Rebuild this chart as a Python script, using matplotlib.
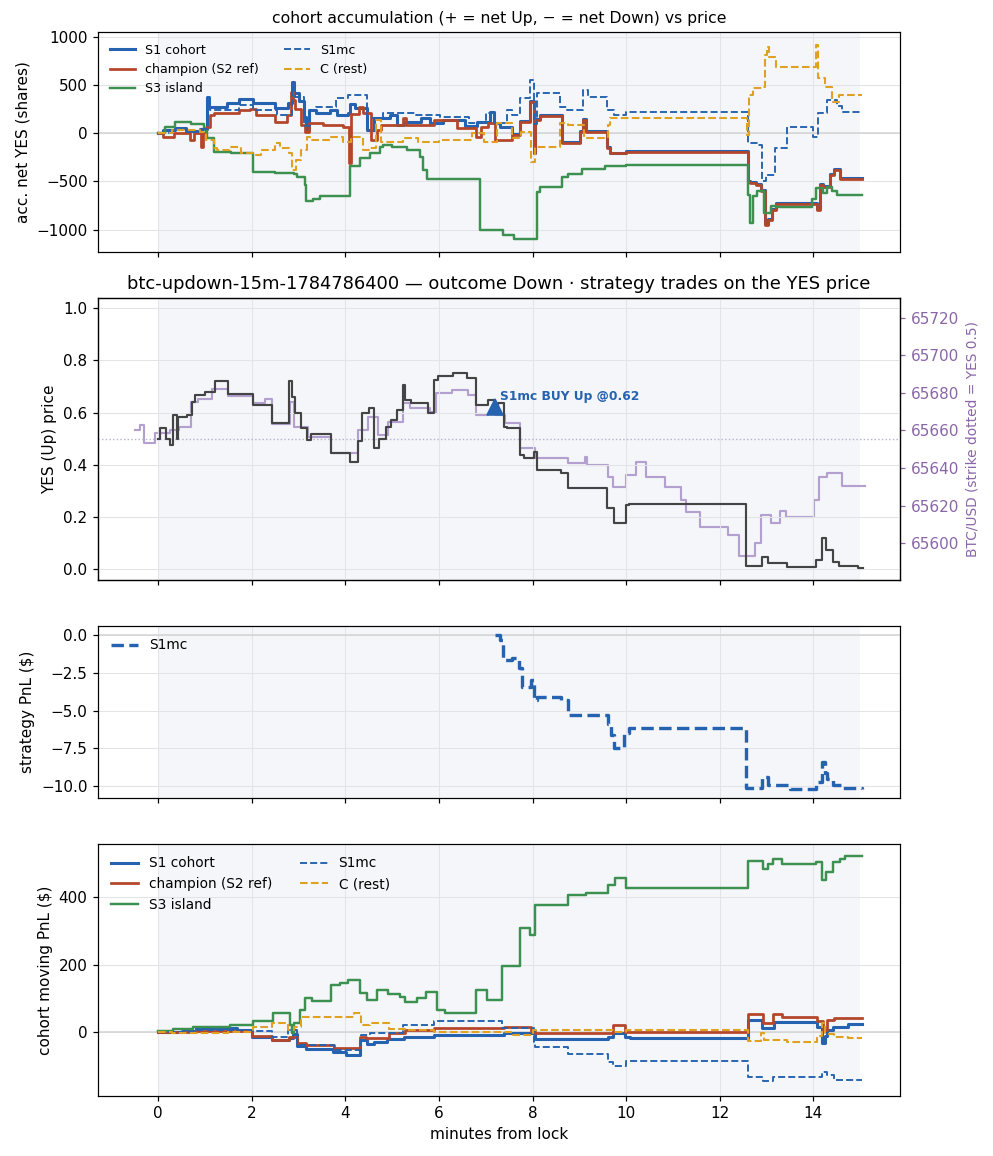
import numpy as np
import matplotlib
matplotlib.use("Agg")
import matplotlib.pyplot as plt

# colours
C_S1 = '#2563b0'
C_CH = '#b5462a'
C_S3 = '#3d9150'
C_C = '#e0a020'
C_BTC = '#b3a0cf'
C_YES = '#444444'

# ---- panel 1: accumulated net YES shares ----
acc_s1_t = [0, 0.1, 0.35, 0.6, 0.9, 1.05, 1.08, 1.46, 1.72, 2.03, 2.5, 2.78, 2.86, 2.9, 3.0, 3.12, 3.16, 3.22,
            3.38, 3.67, 3.82, 4.05, 4.1, 4.2, 4.46, 4.6, 4.95, 5.1, 5.25, 5.62, 5.8, 6.08, 6.55, 6.82, 7.08, 7.18,
            7.3, 7.55, 7.73, 7.94, 8.02, 8.06, 8.15, 8.62, 9.02, 9.08, 9.15, 9.58, 9.66, 10.0, 12.6, 12.64, 12.78,
            12.88, 12.96, 13.02, 13.12, 13.2, 14.08, 14.14, 14.2, 14.35, 14.45, 14.56, 15.03]
acc_s1_v = [0, 30, 55, 20, 45, 380, 277, 311, 353, 311, 260, 311, 536, 415, 330, 173, 35, 242,
            208, 242, 190, 205, 300, 260, 35, 156, 190, 87, 121, 156, 104, 138, 70, 121, 225, 110,
            60, -8, 130, 338, -200, 146, 192, -95, 25, 146, 25, -147, -200, -188, -492, -510, -528,
            -590, -940, -890, -786, -728, -790, -528, -550, -424, -372, -465, -465]

acc_ch_t = [0, 0.1, 0.33, 0.68, 0.76, 0.92, 0.96, 1.03, 1.1, 1.2, 1.72, 1.96, 2.08, 2.5, 2.74, 2.84, 2.87, 2.92,
            3.05, 3.14, 3.22, 3.53, 3.95, 4.08, 4.12, 4.28, 4.38, 4.54, 4.68, 4.76, 5.24, 5.3, 5.36, 5.9, 6.38,
            6.6, 6.78, 6.9, 7.05, 7.2, 7.55, 7.73, 7.94, 8.02, 8.06, 8.15, 8.62, 9.02, 9.08, 9.15, 9.58, 9.66,
            10.0, 12.6, 12.64, 12.78, 12.88, 12.96, 13.02, 13.12, 13.2, 14.08, 14.14, 14.2, 14.35, 14.45, 14.56, 15.03]
acc_ch_v = [0, -42, 5, -69, 0, -138, 0, 69, 190, 208, 242, 249, 190, 121, 190, 432, 346, 250,
            87, 17, 104, 87, 69, -311, 200, 277, 208, -69, 35, 87, 156, 87, 87, 138, 52,
            52, -35, 69, 104, -69, -17, 121, 329, -208, 138, 183, -104, 17, 138, 17, -156, -208,
            -197, -502, -519, -536, -600, -951, -900, -796, -737, -800, -536, -560, -432, -380, -474, -474]

acc_s3_t = [0, 0.15, 0.35, 0.7, 0.98, 1.05, 1.2, 1.55, 2.03, 2.5, 2.9, 2.96, 3.13, 3.16, 3.3, 3.46, 4.1, 4.31,
            4.52, 4.74, 4.8, 5.0, 5.31, 5.59, 5.66, 5.74, 6.88, 7.37, 7.6, 8.09, 8.15, 8.62, 8.76, 9.05, 9.55,
            10.0, 12.61, 12.65, 12.72, 12.8, 12.95, 13.1, 13.2, 13.98, 14.05, 14.2, 14.3, 14.4, 14.5, 15.03]
acc_s3_v = [0, 60, 120, 100, 30, -50, -190, -207, -398, -410, -420, -450, -536, -705, -685, -655, -339, -260,
            -207, -145, -121, -145, -173, -242, -380, -470, -1000, -1055, -1100, -606, -557, -453, -419, -367, -340,
            -325, -640, -932, -650, -602, -830, -760, -770, -680, -570, -620, -555, -600, -645, -645]

acc_mc_t = [0, 0.3, 0.6, 0.95, 1.07, 1.1, 1.72, 2.03, 2.53, 2.86, 2.92, 3.12, 3.24, 3.38, 3.8, 4.05, 4.47, 4.8,
            5.5, 6.02, 6.64, 7.0, 7.2, 7.45, 7.55, 7.73, 7.94, 8.02, 8.09, 8.58, 8.73, 9.08, 9.18, 9.58, 9.73,
            10.0, 12.61, 12.79, 12.9, 12.99, 13.19, 13.43, 14.0, 14.1, 14.3, 14.5, 14.62, 15.03]
acc_mc_v = [0, 30, 10, 40, 330, 242, 294, 242, 190, 484, 380, 70, 242, 277, 363, 398, 156, 208,
            190, 173, 104, 208, 104, 242, 190, 363, 554, 100, 415, 277, 242, 450, 381, 242, 190,
            218, -100, -121, -500, -430, -150, 60, -35, 208, 346, 280, 225, 225]

acc_c_t = [0, 0.3, 0.9, 1.03, 1.2, 1.25, 1.53, 1.76, 2.03, 2.2, 2.5, 2.6, 2.8, 2.86, 2.95, 3.05, 3.17, 3.25,
           3.7, 3.95, 4.12, 4.38, 4.5, 4.65, 4.76, 5.24, 5.55, 6.0, 6.7, 6.95, 7.23, 7.55, 7.75, 7.97, 8.05,
           8.58, 8.76, 9.09, 9.6, 9.65, 10.0, 12.59, 12.63, 12.7, 12.9, 12.97, 13.0, 13.05, 13.2, 14.05, 14.1,
           14.25, 14.4, 14.55, 15.03]
acc_c_v = [0, 30, 10, -69, -156, -173, -145, -207, -225, -173, -104, -156, -207, -380, -277, -173, -35, -69,
           -35, -87, -35, -173, -150, 138, -87, -52, -87, -69, 0, -87, 104, -50, 17, -294, -138,
           104, 87, -52, 87, 156, 163, -17, 398, 467, 484, 813, 900, 796, 692, 917, 571,
           484, 329, 398, 398]

# ---- panel 2: YES price and BTC ----
yes_t = [0, 0.04, 0.17, 0.24, 0.32, 0.4, 0.43, 0.62, 0.73, 0.78, 1.0, 1.21, 1.5, 2.03, 2.42, 2.8, 2.86, 2.92,
         3.06, 3.17, 3.26, 3.7, 4.1, 4.26, 4.35, 4.5, 4.62, 4.72, 4.86, 4.98, 5.1, 5.22, 5.27, 5.4, 5.77, 5.9,
         5.97, 6.3, 6.6, 6.8, 7.04, 7.19, 7.25, 7.39, 7.45, 7.73, 7.82, 8.03, 8.09, 8.6, 8.76, 9.58, 9.74, 10.0,
         10.06, 12.56, 12.9, 13.02, 13.43, 14.06, 14.19, 14.26, 14.42, 14.55, 14.95, 15.05]
yes_v = [0.50, 0.54, 0.50, 0.476, 0.59, 0.50, 0.585, 0.59, 0.64, 0.668, 0.68, 0.72, 0.672, 0.63, 0.56, 0.72, 0.66, 0.60,
         0.54, 0.495, 0.52, 0.444, 0.41, 0.49, 0.60, 0.617, 0.464, 0.50, 0.547, 0.572, 0.61, 0.706, 0.649, 0.639, 0.598, 0.725,
         0.74, 0.751, 0.732, 0.63, 0.649, 0.62, 0.636, 0.547, 0.54, 0.438, 0.425, 0.45, 0.38, 0.368, 0.31, 0.234, 0.176, 0.246,
         0.249, 0.013, 0.049, 0.026, 0.008, 0.036, 0.119, 0.074, 0.029, 0.013, 0.004, 0.004]

btc_t = [-0.5, -0.4, -0.3, -0.07, 0.25, 0.45, 0.7, 0.85, 1.14, 1.5, 2.03, 2.27, 2.42, 2.82, 2.9, 3.2, 3.7, 4.27,
         4.49, 4.7, 4.9, 5.23, 5.38, 5.8, 5.93, 6.27, 6.62, 6.8, 7.05, 7.2, 7.4, 7.73, 8.05, 8.76, 9.12, 9.16,
         9.6, 9.72, 10.0, 10.2, 10.43, 10.82, 11.18, 11.27, 11.57, 12.17, 12.4, 12.75, 12.87, 13.1, 13.28, 13.42,
         14.02, 14.12, 14.3, 14.62, 15.1]
btc_v = [65660, 65663, 65653.5, 65658.5, 65660.3, 65662, 65675, 65677, 65682, 65678.4, 65674.5, 65677, 65663.5,
         65675, 65662, 65656.7, 65648, 65660, 65667, 65657.6, 65664.7, 65674.5, 65671.8, 65670, 65680, 65681.5,
         65679, 65668, 65669, 65668, 65664, 65650.5, 65645.6, 65642.5, 65646, 65641.7, 65635.5, 65629.8, 65636.3,
         65643.4, 65635.5, 65630, 65623, 65616.5, 65608.9, 65604.4, 65593, 65600, 65615, 65610.6, 65617.4,
         65613.8, 65623, 65635.5, 65637.2, 65630.7, 65630.7]
strike = 65655.6
trade_t, trade_p = 7.2, 0.62

# ---- panel 3: strategy PnL ----
pnl_t = [7.2, 7.3, 7.37, 7.55, 7.7, 7.77, 7.96, 8.03, 8.1, 8.6, 8.76, 9.6, 9.68, 9.74, 9.96, 10.06, 12.55, 12.9,
         13.02, 13.3, 13.5, 14.05, 14.18, 14.25, 14.3, 14.42, 14.6, 15.04]
pnl_v = [0.0, -0.3, -1.66, -1.5, -2.2, -3.47, -3.0, -4.3, -4.13, -4.3, -5.3, -5.9, -6.6, -7.5, -6.5, -6.18, -10.1, -9.43,
         -9.93, -9.9, -10.2, -9.7, -8.4, -9.16, -9.5, -9.93, -10.1, -10.22]

# ---- panel 4: cohort moving PnL ----
mpnl_s1_t = [0, 0.5, 0.8, 1.69, 2.0, 2.42, 2.8, 2.88, 2.96, 3.16, 3.74, 4.02, 4.3, 4.45, 4.6, 4.88, 5.25, 5.9,
             7.38, 8.05, 9.62, 9.72, 9.97, 10.08, 12.61, 12.9, 13.16, 14.08, 14.18, 14.25, 14.3, 14.42, 14.74, 15.03]
mpnl_s1_v = [2, 5, 12, 7, -13, -23, -18, -5, -40, -50, -58, -67, -23, -35, -28, -21, -15, -8,
             -3, -21, -13, -3, -15, -16, 37, 12, 29, 17, -33, -10, 7, 17, 24, 24]

mpnl_ch_t = [0, 0.8, 2.0, 2.42, 2.8, 2.96, 3.16, 3.75, 4.3, 4.43, 4.93, 5.27, 5.9, 7.38, 7.97, 8.05, 9.72, 9.97,
             12.61, 12.93, 13.14, 13.32, 14.07, 14.2, 14.3, 14.43, 15.03]
mpnl_ch_v = [2, 5, -11, -23, -15, -33, -37, -47, -13, -18, -3, 7, 12, 17, 5, -3, 22, 2,
             53, 27, 53, 46, 32, 7, 37, 41, 41]

mpnl_s3_t = [0, 0.32, 0.75, 1.53, 2.03, 2.46, 2.81, 2.85, 2.9, 3.03, 3.13, 3.28, 3.7, 3.88, 4.06, 4.31, 4.45,
             4.67, 4.91, 5.16, 5.27, 5.52, 5.73, 5.95, 6.13, 6.8, 7.02, 7.34, 7.73, 7.95, 8.05, 8.76, 9.15, 9.62,
             9.76, 9.99, 12.61, 12.92, 13.04, 13.14, 13.32, 14.05, 14.18, 14.28, 14.42, 14.57, 14.68, 15.03]
mpnl_s3_v = [4, 9, 17, 20, 32, 58, 20, -3, 27, 66, 101, 94, 140, 145, 155, 115, 96,
             125, 113, 105, 91, 101, 118, 66, 56, 125, 96, 197, 308, 289, 377, 406, 412, 437,
             456, 427, 508, 483, 498, 513, 500, 504, 451, 476, 506, 514, 521, 521]

mpnl_mc_t = [0, 0.8, 2.0, 2.42, 2.77, 2.96, 3.75, 4.34, 4.53, 5.22, 5.9, 7.34, 8.02, 8.05, 8.76, 9.62, 9.72,
             10.0, 12.61, 12.93, 13.14, 14.18, 14.3, 14.43, 15.03]
mpnl_mc_v = [2, 8, 3, -13, 7, -37, -52, -8, -3, 22, 32, 12, -30, -45, -65, -87, -100,
             -85, -133, -146, -133, -117, -126, -141, -141]

mpnl_c_t = [0, 0.3, 1.5, 2.03, 2.42, 2.77, 2.9, 3.06, 4.19, 4.34, 4.53, 4.93, 5.27, 5.9, 7.53, 8.0, 9.73, 10.0,
            12.61, 12.88, 12.95, 13.43, 14.07, 14.18, 14.25, 14.43, 14.75, 15.03]
mpnl_c_v = [0, -3, 0, 15, 27, 7, 17, 44, 56, 22, 27, 9, 7, 2, -8, 7, 2, 7,
            -25, -3, -23, -28, -10, 27, -5, -13, -18, -18]

fig = plt.figure(figsize=(993 / 110, 1156 / 110), dpi=110)
ax1 = fig.add_axes([0.0990, 0.7823, 0.8073, 0.1898])
ax2 = fig.add_axes([0.0990, 0.4985, 0.8073, 0.2434], sharex=ax1)
ax3 = fig.add_axes([0.0990, 0.3094, 0.8073, 0.1491], sharex=ax1)
ax4 = fig.add_axes([0.0990, 0.0522, 0.8073, 0.2177], sharex=ax1)

# right-hand BTC axis sits under the price axis
axr = ax2.twinx()
ax2.set_zorder(axr.get_zorder() + 1)
ax2.patch.set_visible(False)

# lock window shading (on axr for the price panel so the BTC line is not washed out)
for ax in (ax1, axr, ax3, ax4):
    ax.axvspan(0, 15, color='#eef1f8', alpha=0.6, lw=0, zorder=0)
for ax in (ax1, ax2, ax3, ax4):
    ax.grid(True, color='#e3e3e8', lw=0.7, zorder=0)
    ax.set_axisbelow(True)
for ax in (ax1, ax3, ax4):
    ax.axhline(0, color='#d4d4d4', lw=1.0, zorder=1)


def cohort_lines(ax, s1, ch, s3, mc, c):
    ax.plot(*s1, drawstyle='steps-post', color=C_S1, lw=2.0, label='S1 cohort')
    ax.plot(*ch, drawstyle='steps-post', color=C_CH, lw=1.8, label='champion (S2 ref)')
    ax.plot(*s3, drawstyle='steps-post', color=C_S3, lw=1.6, label='S3 island')
    ax.plot(*mc, drawstyle='steps-post', color=C_S1, lw=1.25, ls='--', label='S1mc')
    ax.plot(*c, drawstyle='steps-post', color=C_C, lw=1.35, ls='--', label='C (rest)')


cohort_lines(ax1, (acc_s1_t, acc_s1_v), (acc_ch_t, acc_ch_v), (acc_s3_t, acc_s3_v),
             (acc_mc_t, acc_mc_v), (acc_c_t, acc_c_v))
ax1.set_ylim(-1229, 1048)
ax1.set_ylabel('acc. net YES (shares)')
ax1.set_title('cohort accumulation (+ = net Up, \u2212 = net Down) vs price', fontsize=10.2)
ax1.legend(loc='upper left', ncol=2, fontsize=8.3, frameon=False)

# price panel
ax2.plot(yes_t, yes_v, drawstyle='steps-post', color=C_YES, lw=1.4, zorder=4)
ax2.axhline(0.5, color='#b8b0c8', lw=0.9, ls=':', zorder=2)
ax2.plot([trade_t], [trade_p], marker='^', ms=11, color=C_S1, ls='none', zorder=6)
ax2.annotate('S1mc BUY Up @0.62', (trade_t, trade_p), xytext=(3, 3), textcoords='offset points',
             fontsize=8, fontweight='bold', color=C_S1, ha='left', va='bottom', zorder=7)
ax2.set_ylim(-0.040, 1.038)
ax2.set_ylabel('YES (Up) price')
ax2.set_title('btc-updown-15m-1784786400 \u2014 outcome Down \u00b7 strategy trades on the YES price', fontsize=11.7)

axr.plot(btc_t, btc_v, drawstyle='steps-post', color=C_BTC, lw=1.4)
axr.set_ylim(65580.6, 65730.3)
axr.set_yticks([65600, 65620, 65640, 65660, 65680, 65700, 65720])
axr.tick_params(axis='y', colors='#8a66a8', labelsize=10)
axr.set_ylabel('BTC/USD (strike dotted = YES 0.5)', color='#8a66a8', fontsize=9)

# strategy pnl
ax3.plot(pnl_t, pnl_v, drawstyle='steps-post', color=C_S1, lw=2.2, ls='--', label='S1mc')
ax3.set_ylim(-10.81, 0.6)
ax3.set_ylabel('strategy PnL ($)')
ax3.legend(loc='upper left', fontsize=9, frameon=False)

cohort_lines(ax4, (mpnl_s1_t, mpnl_s1_v), (mpnl_ch_t, mpnl_ch_v), (mpnl_s3_t, mpnl_s3_v),
             (mpnl_mc_t, mpnl_mc_v), (mpnl_c_t, mpnl_c_v))
ax4.set_ylim(-188, 558)
ax4.set_yticks([0, 200, 400])
ax4.set_ylabel('cohort moving PnL ($)')
ax4.set_xlabel('minutes from lock')
ax4.legend(loc='upper left', ncol=2, fontsize=9, frameon=False)

ax1.set_xlim(-1.282, 15.85)
ax1.set_xticks([0, 2, 4, 6, 8, 10, 12, 14])
for ax in (ax1, ax2, ax3):
    ax.tick_params(labelbottom=False)

fig.savefig('out.png', dpi=110)
